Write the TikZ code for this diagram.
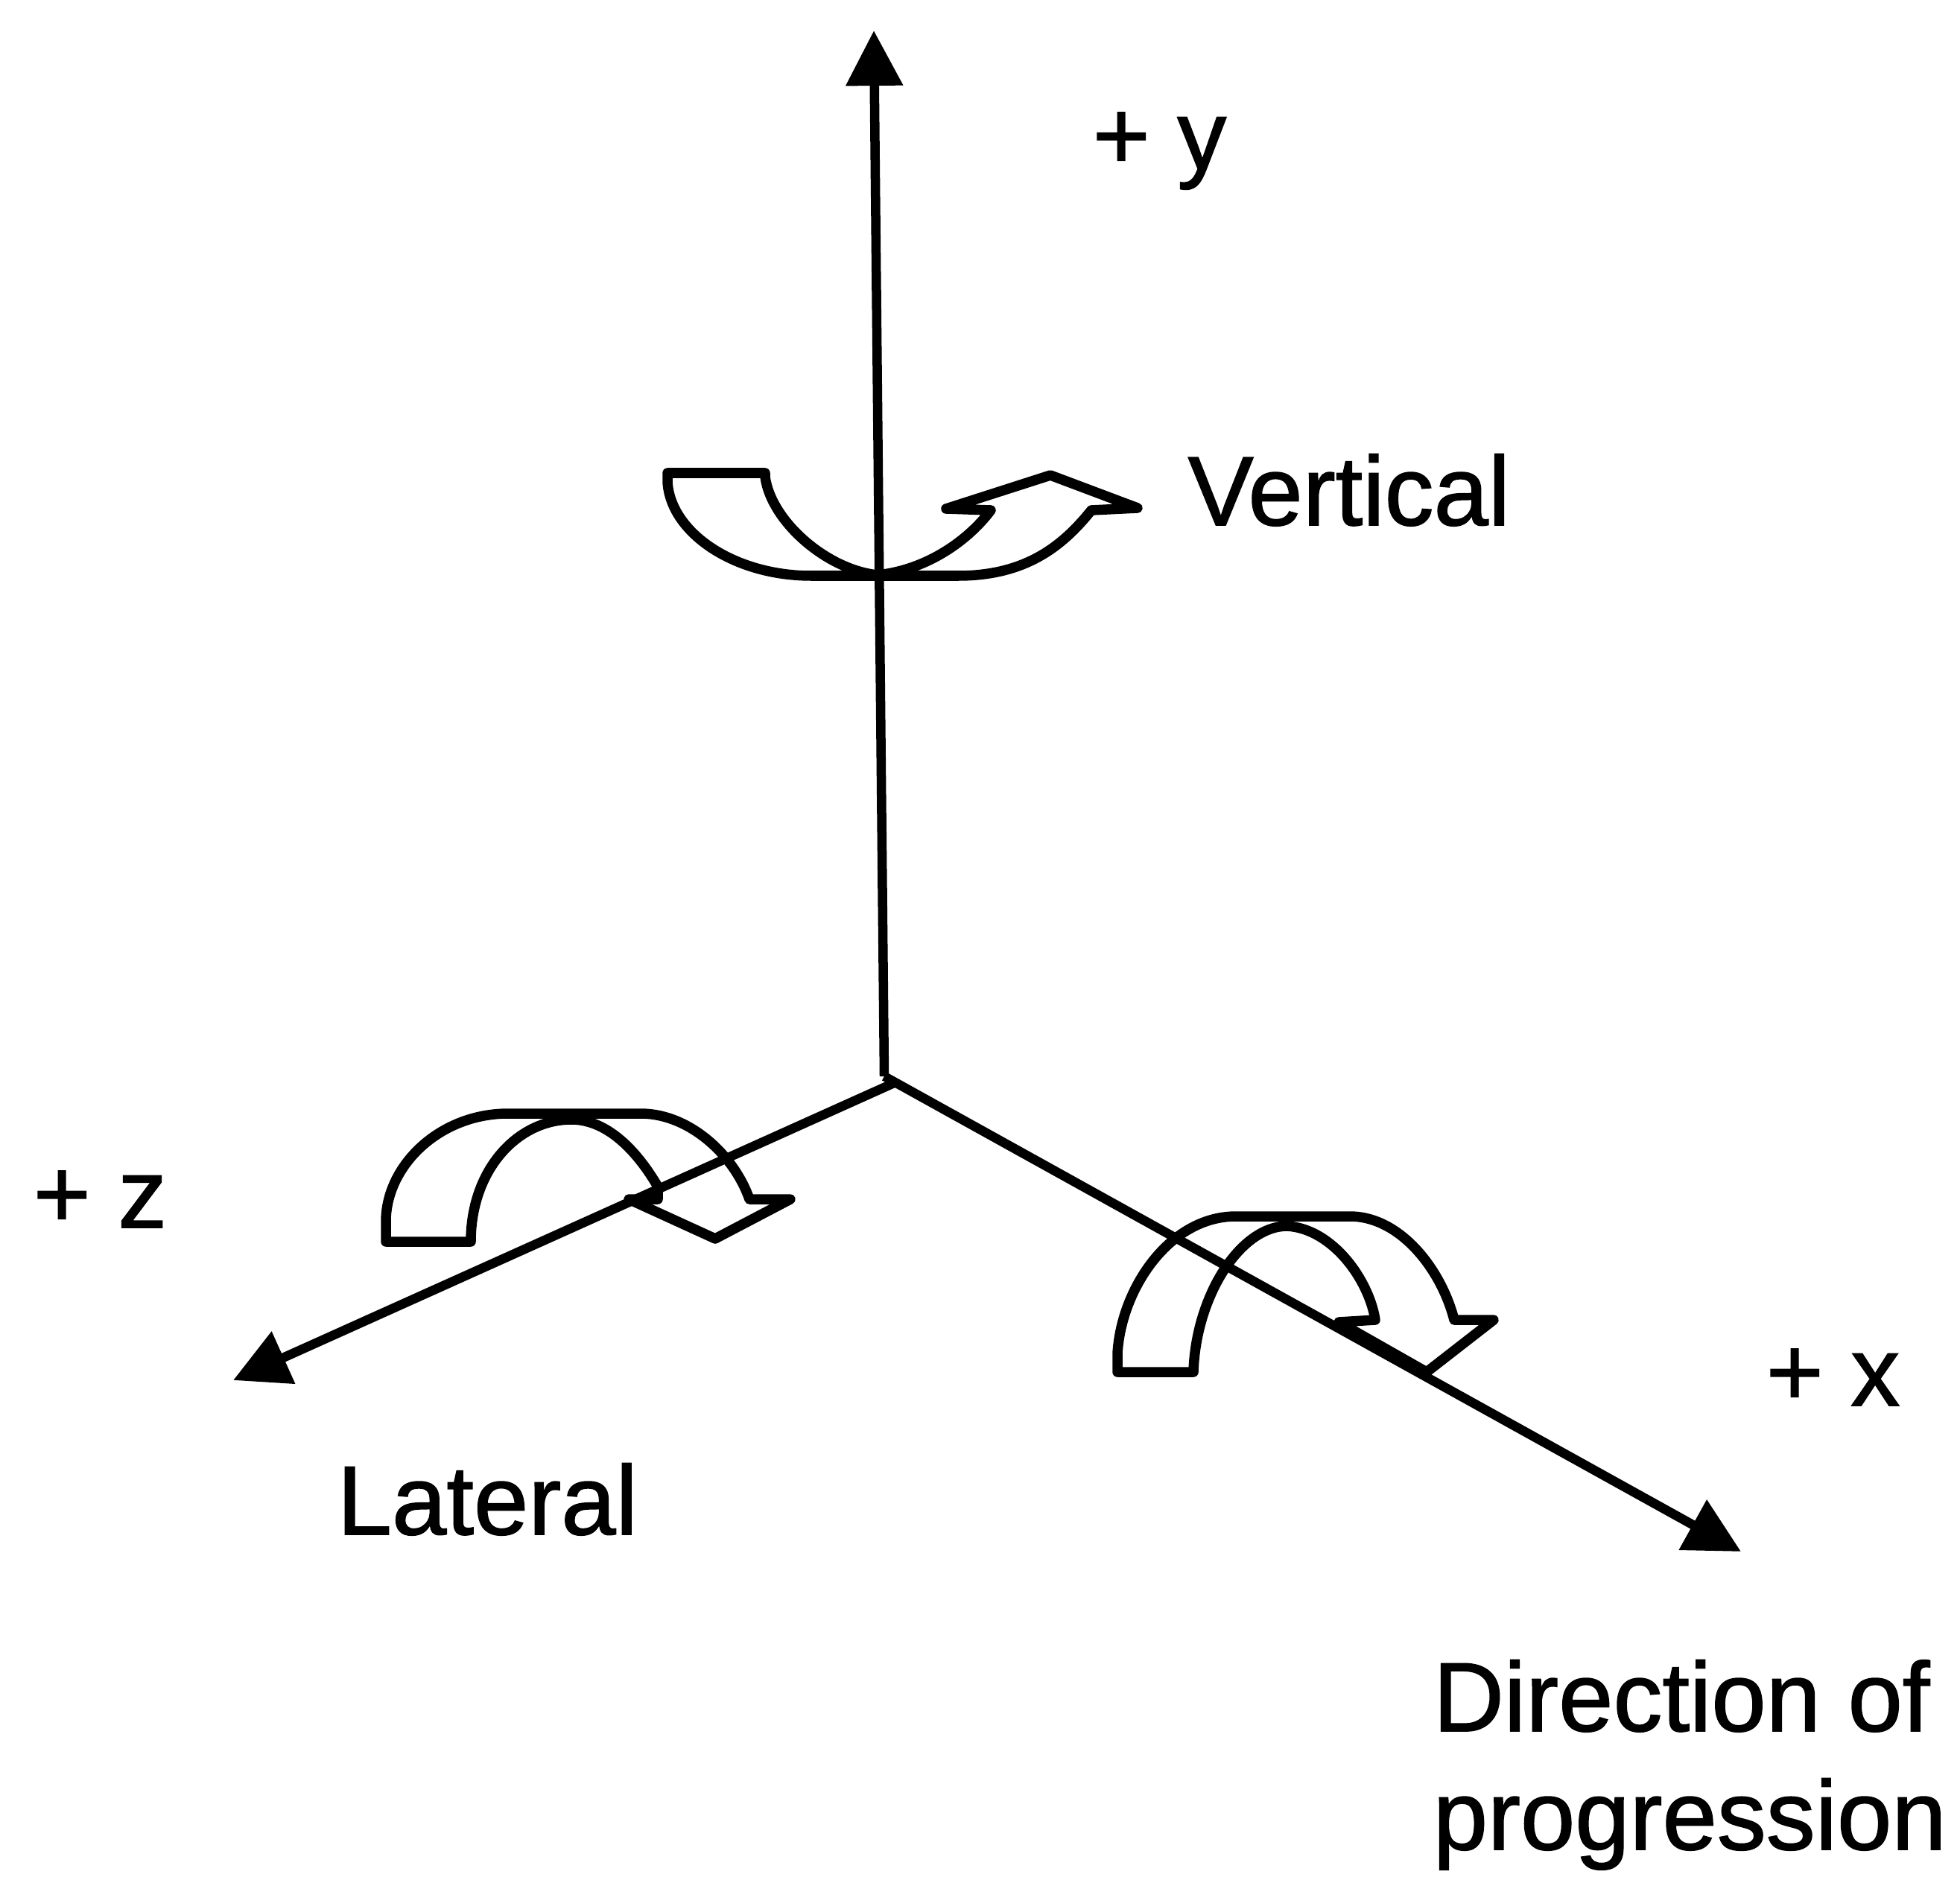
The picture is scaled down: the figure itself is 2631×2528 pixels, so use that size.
\documentclass[tikz,border=0pt]{standalone}
\usepackage{fontspec}
\setmainfont[FakeBold=1.2]{Liberation Sans}
\usetikzlibrary{arrows.meta}

\begin{document}
\begin{tikzpicture}[x=0.01cm,y=-0.01cm,
    every node/.style={font=\fontsize{37.5}{45}\selectfont,inner sep=0pt,anchor=base west},
    axisline/.style={line width=0.125cm,-{Triangle[length=0.74cm,width=0.74cm]}},
    turnarrow/.style={line width=0.135cm,line join=round}]
    \useasboundingbox (0,0) rectangle (2631,2528);

    \coordinate (origin) at (1187,1445);
    \coordinate (zstart) at (1200,1454);
    \coordinate (ytip) at (1173,41);
    \coordinate (ztip) at (313,1853);
    \coordinate (xtip) at (2337,2083);

    \draw[axisline] (origin) -- (ytip);
    \draw[axisline] (zstart) -- (ztip);
    \draw[axisline] (origin) -- (xtip);

    \draw[turnarrow] (896,635) -- (1027,635) -- (1027,640)
        .. controls (1035,700) and (1110,765) .. (1178,772)
        .. controls (1245,765) and (1300,725) .. (1330,685)
        -- (1270,683) -- (1410,638) -- (1527,682) -- (1465,685)
        .. controls (1425,735) and (1375,773) .. (1286,773)
        -- (1089,773)
        .. controls (985,773) and (900,715) .. (896,647) -- cycle;

    \draw[turnarrow] (518,1667) -- (518,1640)
        .. controls (518,1565) and (590,1495) .. (682,1495)
        -- (860,1495)
        .. controls (925,1495) and (985,1550) .. (1006,1610)
        -- (1061,1610) -- (960,1663) -- (844,1610) -- (883,1610) -- (883,1593)
        .. controls (855,1545) and (815,1503) .. (767,1503)
        .. controls (695,1503) and (632,1570) .. (632,1667) -- cycle;

    \draw[turnarrow] (1500,1842) -- (1500,1817)
        .. controls (1505,1730) and (1570,1633) .. (1659,1633)
        -- (1812,1633)
        .. controls (1880,1633) and (1935,1705) .. (1952,1772)
        -- (2005,1772) -- (1915,1842) -- (1797,1775) -- (1846,1772)
        .. controls (1838,1720) and (1790,1650) .. (1728,1646)
        .. controls (1665,1646) and (1605,1740) .. (1602,1842) -- cycle;

    \node (ylabel) at (1466,227) {+ y};
    \node (verticallabel) at (1594,705) {Vertical};
    \node (zlabel) at (44,1648) {+ z};
    \node (xlabel) at (2370,1887) {+ x};
    \node (laterallabel) at (452,2060) {Lateral};
    \node (directionlabel) at (1923,2324) {Direction of};
    \node (progressionlabel) at (1923,2483) {progression};
\end{tikzpicture}
\end{document}
